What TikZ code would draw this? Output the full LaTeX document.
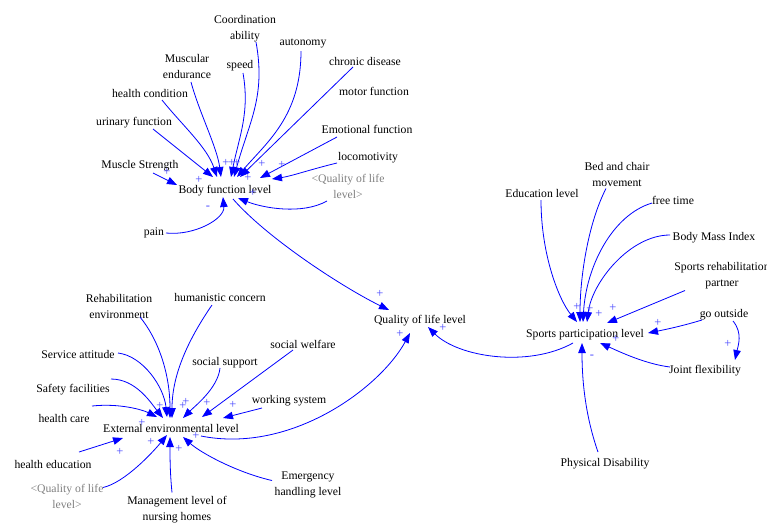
\documentclass[tikz,border=0pt]{standalone}
\usepackage{fontspec}
\setmainfont{Liberation Serif}
\usetikzlibrary{arrows.meta}
\definecolor{linkblue}{RGB}{0,0,255}
\definecolor{polblue}{RGB}{70,70,255}
\definecolor{shadowgray}{RGB}{128,128,128}
\tikzset{
  lbl/.style={inner sep=0pt, align=center, font=\fontsize{11.7}{16}\selectfont, text=black, yshift=-1.5pt},
  shadow/.style={lbl, text=shadowgray},
  pol/.style={inner sep=0pt, font=\fontsize{12.5}{12}\selectfont, text=polblue},
  conn/.style={draw=linkblue, line width=0.8pt, -{Triangle[length=10pt,width=7.5pt]}},
}
\begin{document}
\begin{tikzpicture}[x=1pt,y=-1pt]
\useasboundingbox (0,0) rectangle (767,523);
% ---------- top cluster ----------
\node[lbl] (bfl) at (225,189) {Body function level};
\node[lbl] (ms) at (140,164) {Muscle Strength};
\node[lbl] (uf) at (134,121) {urinary function};
\node[lbl] (hc) at (150,92) {health condition};
\node[lbl] (me) at (187,65) {Muscular\\endurance};
\node[lbl] (sp) at (240,64) {speed};
\node[lbl] (ca) at (245,27) {Coordination\\ability};
\node[lbl] (au) at (303,42) {autonomy};
\node[lbl] (cd) at (365,60) {chronic disease};
\node[lbl] (mf) at (374,90) {motor function};
\node[lbl] (ef) at (367,128) {Emotional function};
\node[lbl] (lo) at (368,156) {locomotivity};
\node[shadow] (qt) at (348,185) {<Quality of life\\level>};
\node[lbl] (pa) at (154,231) {pain};
% ---------- center ----------
\node[lbl] (qol) at (420,319) {Quality of life level};
% ---------- bottom cluster ----------
\node[lbl] (eel) at (171,427) {External environmental level};
\node[lbl] (re) at (119,305) {Rehabilitation\\environment};
\node[lbl] (hu) at (220,296) {humanistic concern};
\node[lbl] (sw) at (303,343) {social welfare};
\node[lbl] (sa) at (78,353) {Service attitude};
\node[lbl] (ss) at (225,361) {social support};
\node[lbl] (sf) at (73,388) {Safety facilities};
\node[lbl] (ws) at (289,399) {working system};
\node[lbl] (hca) at (64,417) {health care};
\node[lbl] (he) at (53,463) {health education};
\node[shadow] (qb) at (67,494.5) {<Quality of life\\level>};
\node[lbl] (mn) at (177,508.5) {Management level of\\nursing homes};
\node[lbl] (eh) at (308,483.5) {Emergency\\handling level};
% ---------- right cluster ----------
\node[lbl] (spl) at (585,333) {Sports participation level};
\node[lbl] (el) at (542,192) {Education level};
\node[lbl] (bc) at (617,172.5) {Bed and chair\\movement};
\node[lbl] (ft) at (673,199) {free time};
\node[lbl] (bmi) at (714,236) {Body Mass Index};
\node[lbl] (srp) at (722,274.5) {Sports rehabilitation\\partner};
\node[lbl] (go) at (724,313) {go outside};
\node[lbl] (jf) at (705,369) {Joint flexibility};
\node[lbl] (pd) at (605,462) {Physical Disability};

% ---------- top connectors ----------
\draw[conn] ([shift={(13,7.5)}]ms.center) -- ([shift={(-48,-5.5)}]bfl.center);
\draw[conn] ([shift={(19,6.5)}]uf.center) -- ([shift={(-12,-13.5)}]bfl.center);
\draw[conn] ([shift={(12,6.5)}]hc.center) .. controls +(20,25) and +(-10,-30) .. ([shift={(-8,-13.5)}]bfl.center);
\draw[conn] ([shift={(4,15.5)}]me.center) .. controls +(8,30) and +(-4,-30) .. ([shift={(-4,-13.5)}]bfl.center);
\draw[conn] ([shift={(3,7.5)}]sp.center) .. controls +(7,40) and +(8,-40) .. ([shift={(6,-13.5)}]bfl.center);
\draw[conn] ([shift={(11,13.5)}]ca.center) .. controls +(10,55) and +(15,-55) .. ([shift={(9,-13.5)}]bfl.center);
\draw[conn] ([shift={(-2,7.5)}]au.center) .. controls +(0,65) and +(30,-35) .. ([shift={(12,-13.5)}]bfl.center);
\draw[conn] ([shift={(-12,5.5)}]cd.center) -- ([shift={(15,-13.5)}]bfl.center);
\draw[conn] ([shift={(-30,7.5)}]ef.center) -- ([shift={(35,-12.5)}]bfl.center);
\draw[conn] ([shift={(-31,5.5)}]lo.center) .. controls +(-25,6) and +(20,-3) .. ([shift={(47,-11.5)}]bfl.center);
\draw[conn] ([shift={(-21,14.5)}]qt.center) .. controls +(-25,14) and +(25,10) .. ([shift={(13,7.5)}]bfl.center);
\draw[conn] ([shift={(12,0.5)}]pa.center) .. controls +(28,3) and +(2,22) .. ([shift={(-2,6.5)}]bfl.center);
\draw[conn] ([shift={(8,8.5)}]bfl.center) .. controls +(35,40) and +(-45,-22) .. ([shift={(-31,-10.5)}]qol.center);

% ---------- bottom connectors ----------
\draw[conn] ([shift={(21,10.5)}]re.center) .. controls +(18,22) and +(0,-45) .. ([shift={(-1,-10.5)}]eel.center);
\draw[conn] ([shift={(-8,7.5)}]hu.center) .. controls +(-22,32) and +(0,-45) .. ([shift={(1,-10.5)}]eel.center);
\draw[conn] ([shift={(40,-1.5)}]sa.center) .. controls +(25,3) and +(-3,-30) .. ([shift={(-4,-11.5)}]eel.center);
\draw[conn] ([shift={(-5,5.5)}]ss.center) .. controls +(-2,20) and +(12,-12) .. ([shift={(12,-10.5)}]eel.center);
\draw[conn] ([shift={(-10,5.5)}]sw.center) -- ([shift={(31,-11.5)}]eel.center);
\draw[conn] ([shift={(38,-10.5)}]sf.center) .. controls +(25,0) and +(-12,-15) .. ([shift={(-8,-10.5)}]eel.center);
\draw[conn] ([shift={(-27,7.5)}]ws.center) -- ([shift={(52,-10.5)}]eel.center);
\draw[conn] ([shift={(28,-12.5)}]hca.center) .. controls +(28,-3) and +(-14,-7) .. ([shift={(-14,-11.5)}]eel.center);
\draw[conn] ([shift={(26,-12.5)}]he.center) -- ([shift={(-48,9.5)}]eel.center);
\draw[conn] ([shift={(36,-8.5)}]qb.center) .. controls +(22,-5) and +(-14,17) .. ([shift={(-4,6.5)}]eel.center);
\draw[conn] ([shift={(-5,-17.5)}]mn.center) .. controls +(-2,-20) and +(0,20) .. ([shift={(-1,8.5)}]eel.center);
\draw[conn] ([shift={(-36,-4.5)}]eh.center) .. controls +(-35,-8) and +(18,16) .. ([shift={(12,8.5)}]eel.center);
\draw[conn] ([shift={(30,7.5)}]eel.center) .. controls +(90,18) and +(-30,55) .. ([shift={(-10,12.5)}]qol.center);

% ---------- right connectors ----------
\draw[conn] ([shift={(-1,6.5)}]el.center) .. controls +(0,55) and +(-18,-22) .. ([shift={(-8,-12.5)}]spl.center);
\draw[conn] ([shift={(-11,14.5)}]bc.center) .. controls +(-18,35) and +(0,-45) .. ([shift={(-5,-12.5)}]spl.center);
\draw[conn] ([shift={(-21,2.5)}]ft.center) .. controls +(-40,12) and +(3,-55) .. ([shift={(-2,-12.5)}]spl.center);
\draw[conn] ([shift={(-44,-2.5)}]bmi.center) .. controls +(-40,0) and +(5,-40) .. ([shift={(2,-12.5)}]spl.center);
\draw[conn] ([shift={(-37,14.5)}]srp.center) -- ([shift={(22,-11.5)}]spl.center);
\draw[conn] ([shift={(-22,5.5)}]go.center) .. controls +(-20,6) and +(20,-4) .. ([shift={(63,-1.5)}]spl.center);
\draw[conn] ([shift={(9,6.5)}]go.center) .. controls +(10,12) and +(3,-14) .. ([shift={(30,-10.5)}]jf.center);
\draw[conn] ([shift={(-35,-3.5)}]jf.center) .. controls +(-25,-3) and +(18,8) .. ([shift={(15,8.5)}]spl.center);
\draw[conn] ([shift={(-7,-11.5)}]pd.center) .. controls +(-14,-40) and +(0,32) .. ([shift={(-3,8.5)}]spl.center);
\draw[conn] ([shift={(-12,8.5)}]spl.center) .. controls +(-45,25) and +(30,30) .. ([shift={(8,6.5)}]qol.center);

% ---------- polarities ----------
\node[pol] (p1) at (167,172) {+};
\node[pol] (p2) at (199,180) {+};
\node[pol] (p3) at (226,163) {+};
\node[pol] (p4) at (232,163) {+};
\node[pol] (p5) at (237,163) {+};
\node[pol] (p6) at (262,164) {+};
\node[pol] (p7) at (282,165) {+};
\node[pol] (p8) at (248,178) {+};
\node[pol] (p9) at (253,193) {+};
\node[pol] (m1) at (208,208) {-};
\node[pol] (p10) at (577,307) {+};
\node[pol] (p11) at (590,309) {+};
\node[pol] (p12) at (599,314) {+};
\node[pol] (p13) at (613,308) {+};
\node[pol] (p14) at (658,323) {+};
\node[pol] (p15) at (616,339) {+};
\node[pol] (m2) at (592,357) {-};
\node[pol] (p16) at (728,344) {+};
\node[pol] (p17) at (380,294) {+};
\node[pol] (p18) at (400,334) {+};
\node[pol] (p19) at (443,328) {+};
\node[pol] (p20) at (160,406) {+};
\node[pol] (p21) at (183,406) {+};
\node[pol] (p22) at (186,402) {+};
\node[pol] (p23) at (207,403) {+};
\node[pol] (p24) at (233,405) {+};
\node[pol] (p25) at (142,423) {+};
\node[pol] (p26) at (151,442) {+};
\node[pol] (p27) at (179,449) {+};
\node[pol] (p28) at (196,436) {+};
\node[pol] (p29) at (120,452) {+};
\end{tikzpicture}
\end{document}
